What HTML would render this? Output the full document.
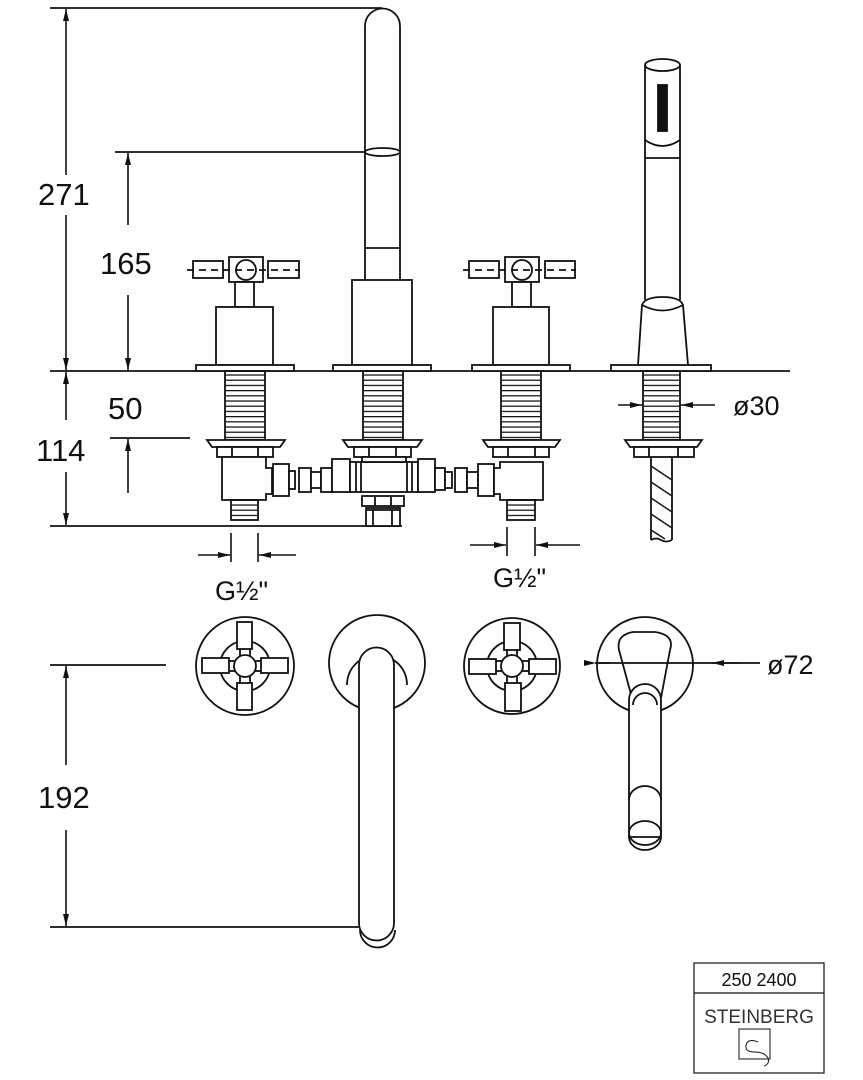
<!DOCTYPE html>
<html><head><meta charset="utf-8"><style>
html,body{margin:0;padding:0;background:#fff;}
svg{display:block;}
text{font-family:"Liberation Sans",sans-serif;fill:#111;}
</style></head><body>
<svg width="863" height="1080" viewBox="0 0 863 1080" xmlns="http://www.w3.org/2000/svg">
<defs>
<marker id="ar" viewBox="0 0 12 6" refX="12" refY="3" markerWidth="12" markerHeight="6" markerUnits="userSpaceOnUse" orient="auto"><path d="M0,0 L12,3 L0,6 z" fill="#111"/></marker>
<pattern id="th" width="10" height="5.2" patternUnits="userSpaceOnUse"><line x1="0" y1="0.6" x2="10" y2="0.6" stroke="#111" stroke-width="1.3"/></pattern>
</defs>
<g fill="none" stroke="#111" stroke-width="1.8">
<line x1="50" y1="371" x2="790" y2="371"/>
<line x1="50" y1="526" x2="402" y2="526"/>
<line x1="50" y1="8" x2="382" y2="8"/>
<line x1="115" y1="152" x2="366" y2="152"/>
<line x1="110" y1="438" x2="190" y2="438"/>
<line x1="50" y1="665" x2="166" y2="665"/>
<line x1="50" y1="927" x2="362" y2="927"/>
</g>
<g fill="none" stroke="#111" stroke-width="1.6">
<line x1="66" y1="175" x2="66" y2="9" marker-end="url(#ar)"/>
<line x1="66" y1="215" x2="66" y2="370" marker-end="url(#ar)"/>
<line x1="128" y1="225" x2="128" y2="153" marker-end="url(#ar)"/>
<line x1="128" y1="295" x2="128" y2="370" marker-end="url(#ar)"/>
<line x1="66" y1="420" x2="66" y2="372" marker-end="url(#ar)"/>
<line x1="66" y1="472" x2="66" y2="525" marker-end="url(#ar)"/>
<line x1="128" y1="493" x2="128" y2="439" marker-end="url(#ar)"/>
<line x1="66" y1="765" x2="66" y2="666" marker-end="url(#ar)"/>
<line x1="66" y1="830" x2="66" y2="926" marker-end="url(#ar)"/>
<line x1="231" y1="533" x2="231" y2="562"/><line x1="258" y1="533" x2="258" y2="562"/>
<line x1="198" y1="555" x2="230" y2="555" marker-end="url(#ar)"/>
<line x1="296" y1="555" x2="259" y2="555" marker-end="url(#ar)"/>
<line x1="507" y1="527" x2="507" y2="556"/><line x1="535" y1="527" x2="535" y2="556"/>
<line x1="470" y1="545" x2="506" y2="545" marker-end="url(#ar)"/>
<line x1="580" y1="545" x2="536" y2="545" marker-end="url(#ar)"/>
<line x1="618" y1="405" x2="642" y2="405" marker-end="url(#ar)"/>
<line x1="715" y1="405" x2="681" y2="405" marker-end="url(#ar)"/>
<line x1="596" y1="663" x2="610" y2="663" marker-start="url(#ar)"/>
<line x1="740" y1="663" x2="712" y2="663" marker-end="url(#ar)"/>
</g>
<g fill="#fff" stroke="#111" stroke-width="1.8">
<line x1="187" y1="270" x2="300" y2="270" stroke-dasharray="7,5" />
<rect x="193" y="261" width="30" height="17" fill="none"/>
<rect x="268" y="261" width="31" height="17" fill="none"/>
<rect x="229" y="257" width="34" height="25" fill="none"/>
<circle cx="246" cy="270" r="10" fill="none"/>
<rect x="235" y="282" width="19" height="25"/>
<rect x="216" y="307" width="57" height="58"/>
<rect x="196" y="365" width="98" height="6"/>
<rect x="225" y="371" width="40" height="69" fill="url(#th)"/>
<path d="M207,440 L285,440 L280,447 L212,447 Z"/>
<rect x="217" y="447" width="56" height="10"/>
<line x1="232" y1="447" x2="232" y2="457"/><line x1="258" y1="447" x2="258" y2="457"/>
<path d="M222,457 L266,457 L266,468 L272,468 L272,494 L266,494 L266,500 L222,500 Z"/>
<rect x="231" y="500" width="27" height="20" fill="url(#th)"/>
<rect x="273" y="464" width="16" height="32"/>
<rect x="289" y="471" width="6" height="18"/>
<rect x="299" y="468" width="12" height="24"/>
<rect x="311" y="472" width="10" height="16"/>
<rect x="321" y="468" width="11" height="24"/>
<rect x="332" y="459" width="18" height="33"/>
<rect x="350" y="462" width="68" height="30"/>
<line x1="356" y1="462" x2="356" y2="492"/><line x1="361" y1="462" x2="361" y2="492"/>
<line x1="407" y1="462" x2="407" y2="492"/><line x1="412" y1="462" x2="412" y2="492"/>
<rect x="418" y="459" width="17" height="33"/>
<rect x="435" y="468" width="10" height="22"/>
<rect x="445" y="472" width="7" height="16"/>
<rect x="455" y="468" width="12" height="24"/>
<rect x="467" y="472" width="11" height="16"/>
<rect x="478" y="464" width="16" height="32"/>
<path d="M365,280 L365,26 A17.5,17.5 0 0 1 400,26 L400,280" fill="none"/>
<ellipse cx="382.5" cy="152" rx="17.5" ry="4" fill="none"/>
<line x1="365" y1="248" x2="400" y2="248"/>
<rect x="352" y="280" width="60" height="85"/>
<rect x="333" y="365" width="98" height="6"/>
<rect x="363" y="371" width="40" height="69" fill="url(#th)"/>
<path d="M343,440 L422,440 L417,447 L348,447 Z"/>
<rect x="354" y="447" width="57" height="10"/>
<line x1="369" y1="447" x2="369" y2="457"/><line x1="396" y1="447" x2="396" y2="457"/>
<rect x="362" y="457" width="44" height="5"/>
<rect x="362" y="496" width="42" height="10"/>
<line x1="375" y1="496" x2="375" y2="506"/><line x1="391" y1="496" x2="391" y2="506"/>
<rect x="366" y="508" width="34" height="18"/>
<line x1="366" y1="510" x2="400" y2="510"/>
<line x1="373" y1="510" x2="373" y2="526"/><line x1="392" y1="510" x2="392" y2="526"/>
<line x1="463" y1="270" x2="576" y2="270" stroke-dasharray="7,5"/>
<rect x="469" y="261" width="30" height="17" fill="none"/>
<rect x="545" y="261" width="30" height="17" fill="none"/>
<rect x="505" y="257" width="34" height="25" fill="none"/>
<circle cx="522" cy="270" r="10" fill="none"/>
<rect x="512" y="282" width="19" height="25"/>
<rect x="493" y="307" width="56" height="58"/>
<rect x="472" y="365" width="98" height="6"/>
<rect x="501" y="371" width="40" height="69" fill="url(#th)"/>
<path d="M483,440 L560,440 L555,447 L488,447 Z"/>
<rect x="493" y="447" width="56" height="10"/>
<line x1="508" y1="447" x2="508" y2="457"/><line x1="535" y1="447" x2="535" y2="457"/>
<path d="M500,462 L543,462 L543,500 L500,500 L500,494 L494,494 L494,468 L500,468 Z"/>
<rect x="507" y="500" width="28" height="20" fill="url(#th)"/>
<path d="M645,65 L645,300 M680,65 L680,300" fill="none"/>
<ellipse cx="662.5" cy="65" rx="17.5" ry="6" fill="none"/>
<path d="M645,140 Q662.5,152 680,140" fill="none"/>
<line x1="645" y1="158" x2="680" y2="158"/>
<rect x="658" y="85" width="9" height="46" fill="#111"/>
<path d="M638,365 L642,305 Q645,297 662.5,297 Q680,297 683,305 L688,365" />
<path d="M642,305 Q662.5,316 683,305" fill="none"/>
<rect x="611" y="365" width="100" height="6"/>
<rect x="643" y="371" width="37" height="69" fill="url(#th)"/>
<path d="M625,440 L702,440 L697,447 L630,447 Z"/>
<rect x="634" y="447" width="60" height="10"/>
<line x1="649" y1="447" x2="649" y2="457"/><line x1="678" y1="447" x2="678" y2="457"/>
<path d="M651,457 L651,540 M672,457 L672,540" fill="none"/>
<path d="M651,466 L672,480 M651,482 L672,496 M651,498 L672,512 M651,514 L672,528 M651,530 L665,539" fill="none" stroke-width="1.4"/>
<path d="M651,540 Q656,537 661,540 T672,540" fill="none"/>
<circle cx="245" cy="666" r="49" fill="none"/>
<circle cx="245" cy="666" r="25" fill="none"/>
<rect x="240" y="648" width="10" height="8"/><rect x="240" y="676" width="10" height="8"/>
<rect x="228" y="661" width="8" height="10"/><rect x="254" y="661" width="8" height="10"/>
<circle cx="245" cy="666" r="11"/>
<rect x="237" y="622" width="15" height="27"/>
<rect x="237" y="683" width="15" height="27"/>
<rect x="202" y="658" width="27" height="15"/>
<rect x="261" y="658" width="27" height="15"/>
<circle cx="512" cy="666" r="48" fill="none"/>
<circle cx="512" cy="666" r="25" fill="none"/>
<rect x="507" y="648" width="10" height="8"/><rect x="507" y="676" width="10" height="8"/>
<rect x="495" y="661" width="8" height="10"/><rect x="521" y="661" width="8" height="10"/>
<circle cx="512" cy="666" r="11"/>
<rect x="504" y="623" width="16" height="27"/>
<rect x="505" y="683" width="16" height="28"/>
<rect x="469" y="659" width="27" height="15"/>
<rect x="529" y="659" width="27" height="15"/>
<circle cx="377" cy="663" r="48" fill="none"/>
<path d="M347,685 A30,30 0 1 1 407,685" fill="none"/>
<path d="M360,930 A17,17 0 0 0 395,930" fill="none"/>
<path d="M359,665 A17.5,17.5 0 0 1 394,665 L394,923 A17.5,17.5 0 0 1 359,923 Z"/>
<circle cx="645" cy="665" r="48" fill="none"/>
<path d="M632,698 L619,650 Q616,635 633,632 L655,632 Q675,635 670,650 L661,698" fill="none"/>
<line x1="595" y1="663" x2="760" y2="663"/>
<path d="M629,700 A16,16 0 0 1 661,700 L661,837 L629,837 Z" fill="#fff"/>
<path d="M633,705 A12,12 0 0 1 657,705" fill="none"/>
<path d="M629,800 A16,14 0 0 1 661,800" fill="none"/>
<path d="M629,837 A16,13 0 0 0 661,837" fill="none"/>
<ellipse cx="645" cy="833" rx="16" ry="12" fill="none"/>
<rect x="694" y="963" width="130" height="110" fill="none" stroke-width="1.2"/>
<line x1="694" y1="993" x2="824" y2="993" stroke-width="1.2"/>
<rect x="739" y="1029" width="31" height="30" fill="none" stroke-width="1"/>
<path d="M758,1042 Q748,1038 746,1045 Q745,1052 754,1052 Q765,1052 768,1058 Q770,1064 764,1066" fill="none" stroke-width="1"/>
</g>
<g font-size="31">
<text x="38" y="205">271</text>
<text x="100" y="274">165</text>
<text x="108" y="419">50</text>
<text x="36" y="461">114</text>
<text x="38" y="808">192</text>
</g>
<g font-size="27">
<text x="215" y="600">G½"</text>
<text x="493" y="587">G½"</text>
<text x="733" y="415">ø30</text>
<text x="767" y="674">ø72</text>
</g>
<text x="759" y="986" font-size="18" text-anchor="middle">250 2400</text>
<text x="759" y="1023" font-size="19" text-anchor="middle" style="fill:#333">STEINBERG</text>
</svg>
</body></html>
